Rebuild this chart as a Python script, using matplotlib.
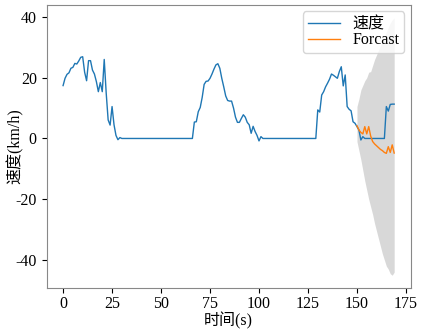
import numpy as np
import matplotlib
matplotlib.use("Agg")
import matplotlib.pyplot as plt

plt.rcParams['font.family'] = ['Liberation Serif', 'Noto Sans CJK SC']
plt.rcParams['axes.unicode_minus'] = False

# actual speed, t = 0..169
speed_head = [17.4, 19.8, 21.1, 21.6, 23.1, 23.4, 24.7, 24.5, 25.5, 26.7,
              26.9, 21.8, 19.0, 25.6, 25.6, 22.5, 21.2, 18.7, 15.4, 18.4,
              15.4, 26.0, 15.0, 6.1, 4.4, 10.5, 4.5, 1.0, -0.4, 0.3]
speed_flat1 = [0.0] * 37          # t = 30..66
speed_peak2 = [5.4, 5.5, 8.8, 10.2, 13.5, 17.8, 18.8, 18.9, 19.8, 21.2,
               22.8, 24.2, 24.6, 23.1, 19.8, 17.0, 14.0, 12.5, 12.3, 12.3,
               10.0, 7.0, 5.3, 5.3, 6.6, 7.8, 7.0, 5.3, 4.5, 1.7,
               4.0, 2.3, 1.0, -0.8, 0.6]   # t = 67..101
speed_flat2 = [0.0] * 28          # t = 102..129
speed_tail = [9.4, 8.7, 14.3, 15.4, 17.0, 18.2, 19.5, 21.2, 20.8, 20.3,
              19.8, 22.0, 23.6, 17.3, 20.9, 10.5, 9.6, 9.1, 5.5, 5.0,
              3.9, 2.8, -0.5, 0.6, 0.0, 0.0, 0.0, 0.0, 0.0, 0.0,
              0.0, 0.0, 0.0, 0.0, 0.0, 10.5, 9.0, 11.2, 11.3, 11.3]  # t = 130..169
speed = speed_head + speed_flat1 + speed_peak2 + speed_flat2 + speed_tail
t_speed = list(range(len(speed)))

# forecast, t = 150..169
t_fc = list(range(150, 170))
forecast = [4.2, 2.8, 2.0, 1.5, 3.9, 1.5, 3.9, 0.8, -1.0, -1.8,
            -2.4, -3.0, -3.6, -4.0, -4.6, -4.9, -2.7, -4.6, -2.1, -4.8]
upper = [10.5, 13.0, 16.0, 17.5, 19.0, 20.0, 21.8, 22.0, 24.0, 26.0,
         27.5, 29.0, 30.5, 32.0, 33.5, 35.0, 36.5, 38.0, 39.0, 39.7]
lower = [-1.0, -4.0, -7.0, -10.5, -14.0, -17.0, -20.0, -22.5, -25.0, -28.0,
         -30.5, -33.0, -35.5, -38.0, -40.0, -42.0, -43.0, -44.5, -45.0, -44.0]

fig = plt.figure(figsize=(4.23, 3.30), dpi=100)
ax = fig.add_axes([0.110, 0.127, 0.861, 0.858])

ax.plot(t_speed, speed, color='#1f77b4', lw=1.0, label='速度')
ax.plot(t_fc, forecast, color='#ff7f0e', lw=1.0, label='Forcast')
ax.fill_between(t_fc, lower, upper, color='gray', alpha=0.3, lw=0)

ax.set_xticks([0, 25, 50, 75, 100, 125, 150, 175])
ax.set_yticks([-40, -20, 0, 20, 40])
ax.tick_params(labelsize=11.5)
ax.tick_params(axis='x', pad=2.0)
ax.set_xlabel('时间(s)', fontsize=11.5)
ax.xaxis.set_label_coords(0.5, -0.084)
ax.set_ylabel('速度(km/h)', fontsize=11.5)
ax.yaxis.set_label_coords(-0.062, 0.5)
for s in ax.spines.values():
    s.set_color('#888888')
ax.legend(loc='upper right', fontsize=11.5, handlelength=2.0,
          borderaxespad=0.4, labelspacing=0.02, borderpad=0.3)

fig.savefig('out.png', dpi=100)
